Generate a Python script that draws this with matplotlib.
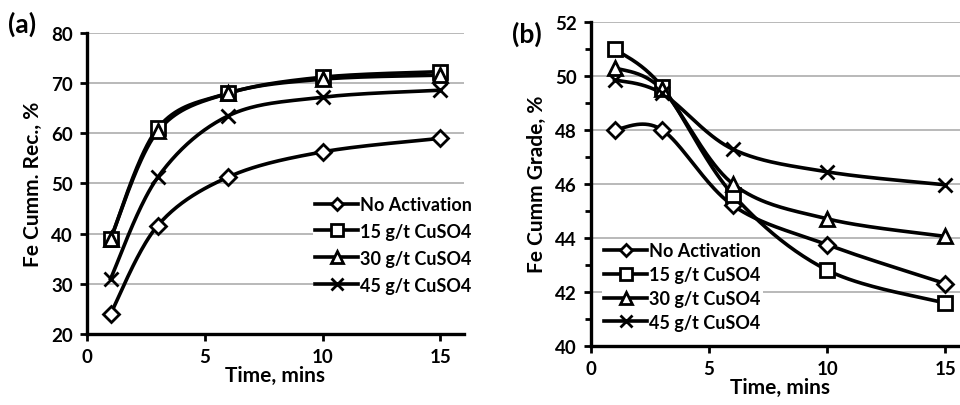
import numpy as np
import matplotlib
matplotlib.use("Agg")
import matplotlib.pyplot as plt
from matplotlib.ticker import MultipleLocator

plt.rcParams['font.family'] = ['Lato', 'DejaVu Sans']
plt.rcParams['font.weight'] = 'bold'
plt.rcParams['axes.labelweight'] = 'bold'

time_min = [1, 3, 6, 10, 15]
labels = ['No Activation', '15 g/t CuSO4', '30 g/t CuSO4', '45 g/t CuSO4']
markers = ['D', 's', '^', 'x']
msizes = [8, 10, 10, 10]

# (a) cumulative recovery, %
rec_none = [24.0, 41.6, 51.3, 56.3, 59.0]
rec_15 = [38.9, 61.0, 68.0, 71.2, 72.3]
rec_30 = [39.0, 60.4, 68.0, 70.8, 71.6]
rec_45 = [31.0, 51.2, 63.5, 67.2, 68.6]

# (b) cumulative grade, %
grade_none = [48.0, 48.0, 45.2, 43.74, 42.3]
grade_15 = [51.0, 49.6, 45.6, 42.8, 41.58]
grade_30 = [50.3, 49.5, 46.0, 44.7, 44.05]
grade_45 = [49.85, 49.35, 47.28, 46.44, 45.96]


def smooth(x, y, n=40):
    # Excel-style smoothed line: cubic Bezier through points
    x = np.asarray(x, float)
    y = np.asarray(y, float)
    px = np.concatenate([[x[0]], x, [x[-1]]])
    py = np.concatenate([[y[0]], y, [y[-1]]])
    xs, ys = [], []
    t = np.linspace(0, 1, n)
    for i in range(1, len(px) - 2):
        p0 = np.array([px[i], py[i]])
        p3 = np.array([px[i + 1], py[i + 1]])
        c1 = p0 + (np.array([px[i + 1], py[i + 1]]) - np.array([px[i - 1], py[i - 1]])) / 6
        c2 = p3 - (np.array([px[i + 2], py[i + 2]]) - np.array([px[i], py[i]])) / 6
        b = ((1 - t) ** 3)[:, None] * p0 + (3 * (1 - t) ** 2 * t)[:, None] * c1 \
            + (3 * (1 - t) * t ** 2)[:, None] * c2 + (t ** 3)[:, None] * p3
        xs.extend(b[:, 0])
        ys.extend(b[:, 1])
    return xs, ys


def draw(ax, series, ylim, ystep, ylabel):
    for vals, lab, mk, ms in zip(series, labels, markers, msizes):
        sx, sy = smooth(time_min, vals)
        ax.plot(sx, sy, color='black', lw=2.6, zorder=3)
        ax.plot(time_min, vals, linestyle='none', marker=mk, ms=ms,
                mfc='white', mec='black', mew=2, zorder=4)
        ax.plot([], [], color='black', lw=2.6, marker=mk, ms=ms,
                mfc='white', mec='black', mew=2, label=lab)
    ax.set_xlim(0, 16)
    ax.set_ylim(*ylim)
    ax.set_xticks([0, 5, 10, 15])
    ax.yaxis.set_major_locator(MultipleLocator(ystep))
    ax.grid(axis='y', color='#a6a6a6', lw=1.1, zorder=0)
    for s in ['top', 'right']:
        ax.spines[s].set_visible(False)
    for s in ['left', 'bottom']:
        ax.spines[s].set_linewidth(2.4)
    ax.tick_params(direction='out', width=2, length=5, labelsize=13.5, pad=5)
    ax.set_xlabel('Time, mins', fontsize=15, fontweight='bold', labelpad=0)
    ax.set_ylabel(ylabel, fontsize=15, fontweight='bold', labelpad=6)


fig = plt.figure(figsize=(9.6, 4.06), dpi=100)
ax1 = fig.add_axes([0.0906, 0.175, 0.3927, 0.7412])
ax2 = fig.add_axes([0.6156, 0.146, 0.3938, 0.798])

draw(ax1, [rec_none, rec_15, rec_30, rec_45], (20, 80), 10, 'Fe Cumm. Rec., %')
draw(ax2, [grade_none, grade_15, grade_30, grade_45], (40, 52), 2, 'Fe Cumm Grade, %')
ax2.yaxis.set_minor_locator(MultipleLocator(1))
ax2.tick_params(which='minor', direction='out', width=2, length=4)

leg_kw = dict(frameon=True, facecolor='white', edgecolor='none', framealpha=1,
              handlelength=2.4, handletextpad=0.08, markerscale=0.8,
              borderpad=0.1, borderaxespad=0, loc='upper left',
              prop={'size': 13, 'weight': 'bold'})
l1 = ax1.legend(bbox_to_anchor=(0.6, 0.465), labelspacing=0.55, **leg_kw)
l2 = ax2.legend(bbox_to_anchor=(0.03, 0.325), labelspacing=0.38, **leg_kw)
l1.set_zorder(5)
l2.set_zorder(5)

fig.text(0.008, 0.92, '(a)', fontsize=19, fontweight='bold')
fig.text(0.533, 0.895, '(b)', fontsize=19, fontweight='bold')

fig.savefig('out.png', dpi=100)
